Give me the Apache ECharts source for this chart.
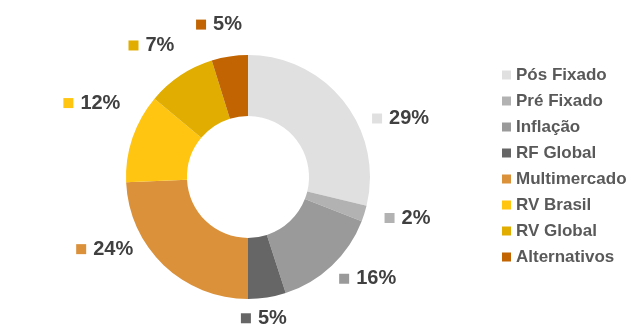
<!DOCTYPE html>
<html>
<head>
<meta charset="utf-8">
<script src="https://cdn.jsdelivr.net/npm/echarts@6/dist/echarts.min.js"></script>
<style>
html,body{margin:0;padding:0;background:#fff;}
#chart{width:639px;height:335px;}
</style>
</head>
<body>
<div id="chart"></div>
<script>
var categories = ['Pós Fixado','Pré Fixado','Inflação','RF Global','Multimercado','RV Brasil','RV Global','Alternativos'];
var values = [28.8, 2.1, 14.1, 5.0, 24.3, 11.8, 9.1, 4.8];
var labelTexts = ['29%','2%','16%','5%','24%','12%','7%','5%'];
var colors = ['#E0E0E0','#B2B2B2','#9A9A9A','#666666','#DB9139','#FFC511','#E1AD01','#C16401'];
// manual label nudges (pixels), mimicking hand-placed data labels
var labelNudge = [[9,28],[-2,-1],[-10,0],[-34,3],[-13,-29],[10,-29],[9,-15],[20,-14]];

var rich = { v: { fontFamily: 'Liberation Sans, Arial, sans-serif', fontWeight: 'bold', fontSize: 20, color: '#404040', padding: [0,0,0,7] } };
colors.forEach(function (c, i) { rich['s' + i] = { backgroundColor: c, width: 10, height: 10 }; });

var data = categories.map(function (n, i) {
  return { name: n, value: values[i], itemStyle: { color: colors[i] } };
});

var chart = echarts.init(document.getElementById('chart'));
chart.setOption({
  animation: false,
  legend: {
    orient: 'vertical',
    left: 502,
    top: 65,
    padding: 0,
    itemWidth: 9,
    itemHeight: 9,
    itemGap: 6,
    icon: 'rect',
    data: categories,
    textStyle: { fontFamily: 'Liberation Sans, Arial, sans-serif', fontWeight: 'bold', fontSize: 17, color: '#595959', lineHeight: 20 }
  },
  series: [{
    type: 'pie',
    center: [248, 177],
    radius: [61, 122],
    startAngle: 90,
    clockwise: true,
    avoidLabelOverlap: false,
    itemStyle: { borderWidth: 0 },
    label: {
      show: true,
      position: 'outside',
      formatter: function (p) { return '{s' + p.dataIndex + '|}{v|' + labelTexts[p.dataIndex] + '}'; },
      rich: rich
    },
    labelLine: { show: false, length: 18, length2: 0 },
    labelLayout: function (p) {
      var n = labelNudge[p.dataIndex];
      return { dx: n[0], dy: n[1] };
    },
    data: data
  }]
});
</script>
</body>
</html>
